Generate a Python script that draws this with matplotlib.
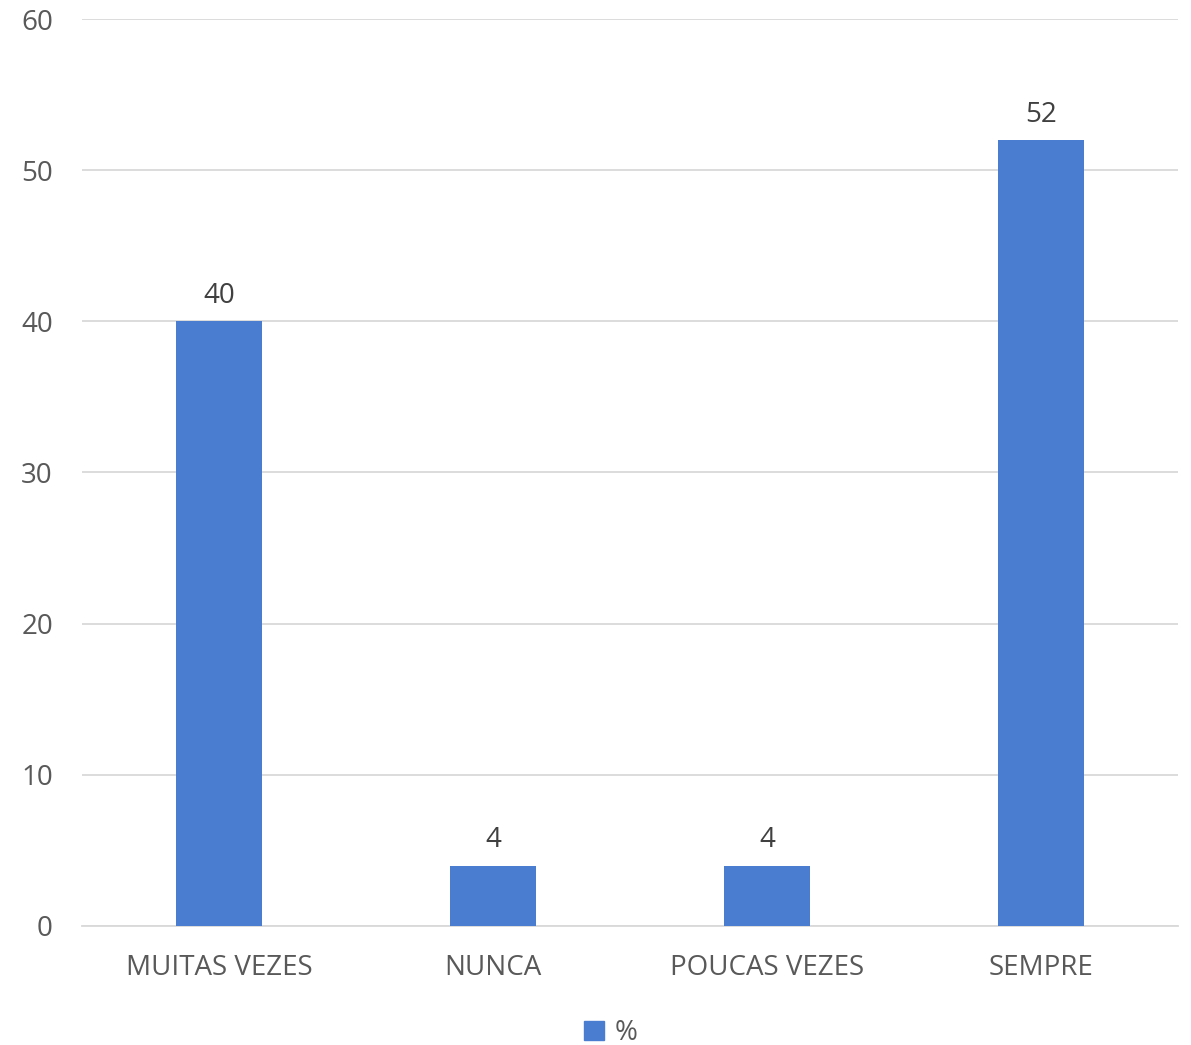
import matplotlib.pyplot as plt
from matplotlib.patches import Patch

categories = ['MUITAS VEZES', 'NUNCA', 'POUCAS VEZES', 'SEMPRE']
values = [40, 4, 4, 52]
yticks = [0, 10, 20, 30, 40, 50, 60]

plt.rcParams['font.family'] = ['Open Sans', 'DejaVu Sans']
bar_color = '#4A7CD0'
text_color = '#595959'

fig = plt.figure(figsize=(11.91, 10.45), dpi=100)
ax = fig.add_axes([0.0689, 0.1139, 0.9201, 0.8679])

x = range(len(categories))
bars = ax.bar(x, values, width=0.314, color=bar_color, zorder=3)
for b, v in zip(bars, values):
    ax.annotate(str(v), (b.get_x() + b.get_width() / 2, v), xytext=(0, 8),
                textcoords='offset points', ha='center', va='bottom',
                fontsize=20, color='#404040')

ax.set_xlim(-0.5, len(categories) - 0.5)
ax.set_ylim(0, 60)
ax.set_yticks(yticks)
ax.set_xticks(list(x))
ax.set_xticklabels(categories)
ax.grid(axis='y', color='#D9D9D9', linewidth=1.3, zorder=0)
for s in ['top', 'right', 'left']:
    ax.spines[s].set_visible(False)
ax.spines['bottom'].set_color('#D9D9D9')
ax.spines['bottom'].set_linewidth(1.3)
ax.tick_params(axis='both', length=0, labelsize=20, labelcolor=text_color)
ax.tick_params(axis='x', pad=20)
ax.tick_params(axis='y', pad=21)

fig.legend(handles=[Patch(color=bar_color, label='%')], loc='lower center',
           bbox_to_anchor=(0.513, -0.026), frameon=False, fontsize=20,
           handlelength=0.7, handleheight=0.7, handletextpad=0.4,
           labelcolor=text_color)

fig.savefig('out.png', dpi=100)
